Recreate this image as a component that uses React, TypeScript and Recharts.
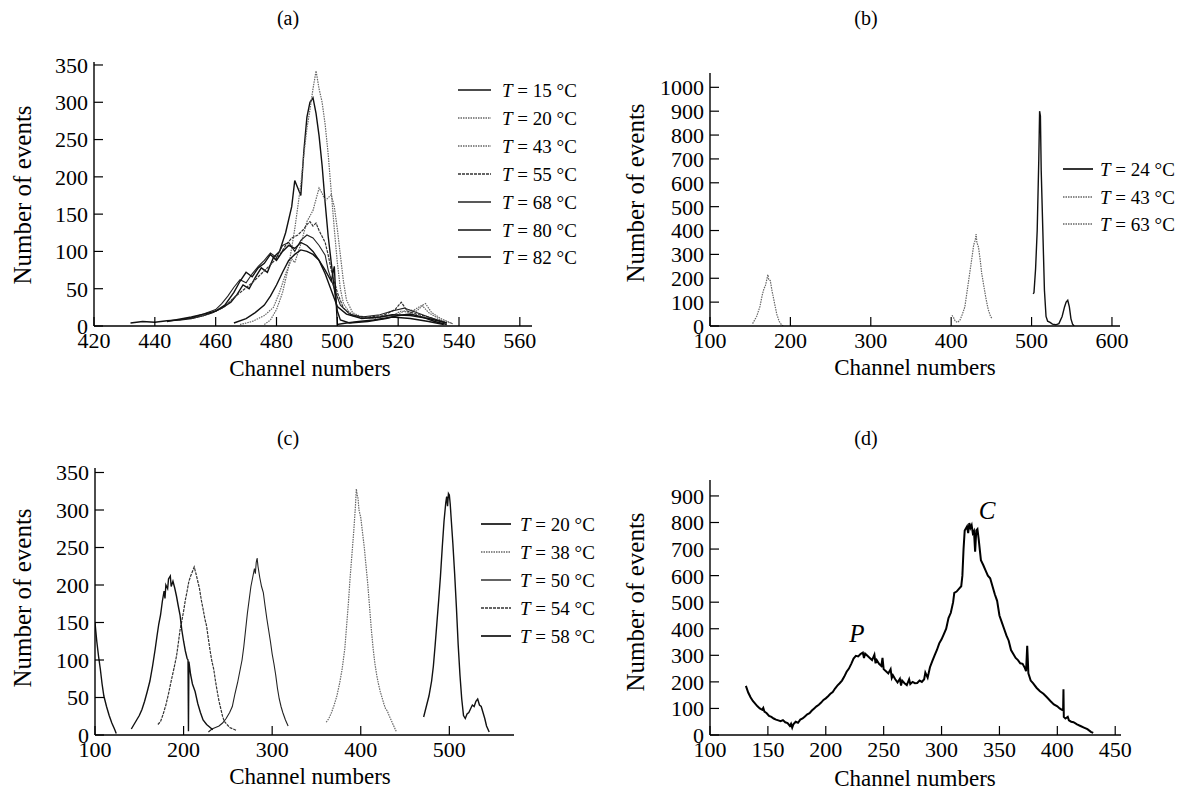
import React from "react"
import { LineChart, Line, XAxis, YAxis } from "recharts"

const FONT = '"Liberation Serif", "Times New Roman", Times, serif'

type Row = [number, number | null]

// ---- panel (a): channel vs events, 7 temperatures ----
const a15: Row[] = [[432,4],[436,6],[440,5],[444,7],[448,8],[452,10],[456,14],[459,18],[462,24],[465,32],[467,42],[469,55],[471,50],[473,65],[475,78],[477,72],[479,92],[481,100],[483,125],[485,160],[486,195],[487,185],[488,175],[489,235],[490,280],[491,300],[492,306],[493,285],[494,255],[495,215],[496,165],[497,120],[498,85],[499,50],[500,20],[501,8],[504,4],[510,6],[516,10],[520,14],[524,16],[528,12],[532,6],[536,2]]
const a20: Row[] = [[476,2],[478,8],[480,22],[482,45],[484,80],[486,130],[487,160],[488,190],[489,230],[490,265],[491,290],[492,318],[493,342],[494,318],[495,300],[496,270],[497,230],[498,180],[499,130],[500,85],[501,50],[502,30],[504,18],[507,12],[510,10],[514,12],[518,14],[521,20],[524,18],[527,26],[529,30],[531,18],[534,10],[538,3]]
const a43: Row[] = [[468,2],[472,6],[476,14],[479,25],[481,45],[483,70],[485,90],[486,85],[488,110],[490,140],[492,155],[493,170],[494,185],[495,178],[496,168],[497,172],[498,176],[499,160],[500,130],[501,95],[502,60],[503,35],[505,18],[508,12],[512,10],[516,13],[520,16],[523,22],[526,20],[528,27],[530,18],[534,8],[538,3]]
const a55: Row[] = [[452,10],[456,14],[460,20],[463,26],[466,38],[469,48],[472,58],[475,70],[478,82],[481,95],[483,108],[485,118],[487,122],[489,130],[490,136],[491,140],[492,134],[493,138],[494,128],[496,112],[497,95],[498,75],[500,45],[502,24],[505,14],[510,12],[515,14],[519,22],[521,32],[523,20],[526,16],[530,12],[535,5]]
const a68: Row[] = [[448,8],[452,11],[456,16],[460,22],[462,30],[464,40],[466,52],[468,62],[470,58],[472,70],[474,80],[476,88],[478,98],[480,92],[482,108],[484,112],[486,100],[488,115],[490,122],[492,118],[494,108],[496,95],[497,75],[499,50],[501,28],[504,16],[508,12],[514,15],[518,20],[522,24],[526,18],[530,12],[536,4]]
const a80: Row[] = [[444,6],[448,9],[452,12],[456,16],[460,20],[463,28],[466,45],[468,60],[470,72],[472,66],[474,78],[476,84],[478,96],[480,88],[482,100],[484,108],[486,104],[488,112],[490,108],[492,100],[494,88],[496,70],[498,48],[500,26],[503,16],[508,10],[514,12],[518,15],[524,14],[530,10],[536,4]]
const a82: Row[] = [[466,4],[470,10],[473,18],[476,28],[478,40],[480,55],[482,72],[484,88],[486,96],[488,102],[490,100],[492,96],[494,88],[496,75],[498,60],[499,80],[500,2],[503,4],[507,6],[512,8],[518,12],[524,10],[530,6],[535,2]]
const aLabels = ["15", "20", "43", "55", "68", "80", "82"]

// ---- panel (b) ----
const b24: Row[] = [[502,135],[503,140],[505,240],[507,400],[509,700],[510,900],[511,880],[512,650],[514,400],[516,150],[518,40],[520,20],[523,15],[526,8],[530,5],[534,10],[538,40],[541,80],[543,100],[545,108],[547,80],[549,30],[551,8],[553,0]]
const b43: Row[] = [[401,45],[403,35],[405,20],[408,15],[411,25],[414,50],[417,80],[420,150],[423,220],[426,290],[428,340],[430,360],[431,385],[432,350],[434,330],[436,280],[438,220],[440,180],[443,120],[446,70],[449,40],[451,30]]
const b63: Row[] = [[153,10],[158,40],[162,80],[165,130],[167,155],[169,170],[171,200],[172,215],[173,195],[175,190],[177,150],[180,100],[183,50],[186,20],[189,5],[191,0]]
const bLabels = ["24", "43", "63"]

// ---- panel (c) ----
const c20: Row[] = [[471,24],[474,38],[477,52],[480,72],[482,92],[484,120],[486,150],[488,180],[490,212],[492,250],[494,285],[496,310],[497,318],[498,305],[499,322],[500,320],[501,308],[502,290],[504,255],[506,215],[508,170],[510,120],[512,80],[514,48],[516,26],[518,22],[520,28],[522,30],[524,35],[526,40],[528,38],[530,45],[532,48],[534,40],[536,38],[538,30],[540,22],[542,12],[545,4]]
const c38: Row[] = [[361,17],[364,22],[367,30],[370,40],[373,52],[376,68],[379,88],[382,115],[384,145],[386,175],[388,210],[390,240],[392,270],[394,305],[395,328],[396,320],[397,315],[398,300],[400,290],[402,270],[404,250],[406,225],[408,200],[410,170],[412,140],[414,115],[416,95],[418,80],[420,68],[422,58],[424,50],[426,42],[428,35],[430,32],[432,26],[435,18],[438,10],[440,5]]
const c50: Row[] = [[228,4],[232,8],[236,10],[240,12],[244,16],[248,22],[252,30],[255,38],[258,55],[261,70],[264,88],[266,100],[268,118],[270,140],[272,162],[274,180],[276,198],[278,210],[280,222],[281,215],[282,230],[283,236],[284,225],[286,210],[288,198],[290,190],[292,172],[294,155],[296,140],[298,125],[300,108],[302,95],[304,80],[306,62],[308,48],[310,38],[312,30],[315,20],[318,12]]
const c54: Row[] = [[171,14],[174,18],[177,28],[180,40],[183,55],[186,72],[189,88],[192,105],[194,122],[196,140],[198,152],[200,165],[202,180],[204,192],[206,205],[208,212],[210,218],[212,224],[214,215],[216,205],[218,195],[220,180],[222,168],[224,155],[226,145],[228,128],[230,112],[232,98],[234,88],[236,72],[238,58],[240,45],[242,35],[244,25],[246,18],[249,14],[252,10],[256,8],[260,6]]
const c58: Row[] = [[100,150],[102,125],[104,105],[106,88],[108,68],[110,52],[113,38],[116,26],[119,16],[122,8],[124,2],[125,null],[141,8],[144,14],[147,20],[150,26],[153,34],[156,45],[159,58],[162,72],[165,92],[168,115],[170,132],[172,148],[174,160],[176,178],[178,192],[179,182],[180,200],[182,195],[183,208],[185,212],[186,198],[188,205],[190,196],[192,185],[194,172],[196,160],[198,140],[200,125],[202,112],[204,102],[205,100],[205.5,5],[206,98],[208,80],[210,68],[213,58],[216,42],[219,30],[222,20],[226,14],[230,10],[233,7]]
const cLabels = ["20", "38", "50", "54", "58"]

// ---- panel (d) ----
const d1: Row[] = [[131,185],[133,160],[135,142],[137,128],[139,118],[141,108],[143,100],[145,95],[146,102],[147,88],[149,82],[151,72],[153,68],[155,62],[157,58],[159,55],[161,52],[163,56],[165,48],[167,45],[169,34],[170,42],[171,28],[172,40],[174,50],[176,46],[178,58],[180,62],[182,70],[184,78],[186,82],[188,92],[190,100],[192,108],[194,114],[196,122],[198,132],[200,138],[202,146],[204,155],[206,162],[208,175],[210,186],[212,195],[214,205],[216,220],[218,238],[220,250],[222,268],[224,288],[226,298],[228,296],[230,305],[232,310],[233,290],[234,306],[236,298],[238,290],[240,282],[242,302],[243,270],[244,282],[246,268],[248,260],[249,290],[250,248],[252,240],[254,232],[256,248],[257,215],[258,225],[260,210],[262,198],[264,212],[265,186],[266,205],[268,195],[270,188],[272,210],[273,192],[275,200],[277,195],[279,196],[281,205],[283,200],[285,210],[286,235],[288,216],[290,255],[292,278],[294,300],[296,320],[298,345],[300,360],[302,380],[304,400],[306,440],[308,460],[310,500],[311,535],[313,540],[315,550],[317,560],[318,600],[319,700],[320,770],[322,785],[323,760],[324,798],[325,780],[326,790],[327,760],[328,768],[329,690],[330,770],[331,775],[332,740],[334,658],[336,640],[338,620],[340,600],[342,590],[344,560],[346,530],[348,505],[350,450],[352,425],[354,400],[356,375],[358,355],[360,320],[362,305],[364,290],[366,282],[368,270],[370,268],[372,252],[373,240],[374,336],[375,232],[377,205],[379,195],[382,178],[385,165],[388,155],[391,142],[394,128],[397,115],[400,108],[402,100],[404,95],[405,92],[405.3,172],[405.6,68],[407,62],[409,68],[410,55],[412,50],[414,48],[417,40],[420,34],[423,28],[426,22],[429,12],[431,8]]

const aXTicks = [420, 440, 460, 480, 500, 520, 540, 560]
const aYTicks = [0, 50, 100, 150, 200, 250, 300, 350]
const bXTicks = [100, 200, 300, 400, 500, 600]
const bYTicks = [0, 100, 200, 300, 400, 500, 600, 700, 800, 900, 1000]
const cXTicks = [100, 200, 300, 400, 500]
const cYTicks = [0, 50, 100, 150, 200, 250, 300, 350]
const dXTicks = [100, 150, 200, 250, 300, 350, 400, 450]
const dYTicks = [0, 100, 200, 300, 400, 500, 600, 700, 800, 900]

const toPts = (rows: Row[]) => rows.map(([x, y]) => ({ x, y }))

type Style = { color: string; width: number; dash?: string }
const solid: Style = { color: "#111", width: 1.4 }
const thin: Style = { color: "#222", width: 1.1 }
const dotted: Style = { color: "#666", width: 1.2, dash: "1.5 1" }
const dashy: Style = { color: "#333", width: 1.2, dash: "3 1" }

const YW = 60
const XH = 40

function XTick(props: any) {
  const { x, y, payload } = props
  return (
    <g>
      <line x1={x} x2={x} y1={y} y2={y - 9} stroke="#000" strokeWidth={1.2} />
      <text x={x} y={y + 22} textAnchor="middle" fontFamily={FONT} fontSize={22} fill="#000">
        {payload.value}
      </text>
    </g>
  )
}

function YTick(props: any) {
  const { x, y, payload } = props
  return (
    <g>
      <line x1={x} x2={x + 9} y1={y} y2={y} stroke="#000" strokeWidth={1.2} />
      <text x={x - 6} y={y} dy="0.36em" textAnchor="end" fontFamily={FONT} fontSize={22} fill="#000">
        {payload.value}
      </text>
    </g>
  )
}

interface PanelProps {
  box: { left: number; top: number; width: number; height: number }
  plot: { left: number; top: number; right: number; bottom: number }
  xDomain: [number, number]
  yDomain: [number, number]
  xTicks: number[]
  yTicks: number[]
  series: { rows: Row[]; style: Style }[]
}

function Panel(p: PanelProps) {
  const { box, plot } = p
  const margin = {
    top: plot.top - box.top,
    left: plot.left - box.left - YW,
    right: box.left + box.width - plot.right,
    bottom: box.top + box.height - plot.bottom - XH,
  }
  return (
    <div style={{ position: "absolute", left: box.left, top: box.top }}>
      <LineChart width={box.width} height={box.height} margin={margin}>
        <XAxis
          type="number"
          dataKey="x"
          domain={p.xDomain}
          ticks={p.xTicks}
          interval={0}
          allowDataOverflow
          height={XH}
          tickSize={0}
          tickMargin={0}
          tickLine={false}
          axisLine={{ stroke: "#000", strokeWidth: 1.4 }}
          tick={(t: any) => <XTick {...t} />}
        />
        <YAxis
          type="number"
          domain={p.yDomain}
          ticks={p.yTicks}
          interval={0}
          allowDataOverflow
          width={YW}
          tickSize={0}
          tickMargin={0}
          tickLine={false}
          axisLine={{ stroke: "#000", strokeWidth: 1.4 }}
          tick={(t: any) => <YTick {...t} />}
        />
        {p.series.map((s, i) => (
          <Line
            key={i}
            data={toPts(s.rows)}
            dataKey="y"
            type="linear"
            stroke={s.style.color}
            strokeWidth={s.style.width}
            strokeDasharray={s.style.dash}
            dot={false}
            activeDot={false}
            isAnimationActive={false}
          />
        ))}
      </LineChart>
    </div>
  )
}

function Txt({ x, y, size, rotate, italic, children }: any) {
  return (
    <div
      style={{
        position: "absolute",
        left: x,
        top: y,
        transform: `translate(-50%, -50%)${rotate ? " rotate(-90deg)" : ""}`,
        fontFamily: FONT,
        fontSize: size,
        fontStyle: italic ? "italic" : "normal",
        whiteSpace: "nowrap",
        lineHeight: 1,
        color: "#000",
      }}
    >
      {children}
    </div>
  )
}

function LegendBox({ x1, x2, tx, y0, step, labels, styles }: any) {
  return (
    <>
      {labels.map((lab: string, i: number) => {
        const y = y0 + i * step
        const st: Style = styles[i]
        return (
          <React.Fragment key={lab + i}>
            <svg style={{ position: "absolute", left: x1, top: y - 3 }} width={x2 - x1} height={6}>
              <line x1={0} x2={x2 - x1} y1={3} y2={3} stroke={st.color} strokeWidth={st.width + 0.3} strokeDasharray={st.dash} />
            </svg>
            <div
              style={{
                position: "absolute",
                left: tx,
                top: y,
                transform: "translateY(-50%)",
                fontFamily: FONT,
                fontSize: 19,
                whiteSpace: "nowrap",
                lineHeight: 1,
              }}
            >
              <i>T</i> = {lab} °C
            </div>
          </React.Fragment>
        )
      })}
    </>
  )
}

export default function App() {
  const aStyles = [solid, dotted, dotted, dashy, thin, solid, solid]
  const aRows = [a15, a20, a43, a55, a68, a80, a82]
  const bStyles = [solid, dotted, dotted]
  const cStyles = [solid, dotted, thin, dashy, solid]
  const cRows = [c20, c38, c50, c54, c58]
  return (
    <div style={{ position: "absolute", left: 0, top: 0, width: 1191, height: 797, background: "#fff", overflow: "hidden" }}>
      <Panel
        box={{ left: 0, top: 0, width: 595, height: 398 }}
        plot={{ left: 94, top: 62, right: 532, bottom: 326 }}
        xDomain={[420, 564]}
        yDomain={[0, 354]}
        xTicks={aXTicks}
        yTicks={aYTicks}
        series={aRows.map((rows, i) => ({ rows, style: aStyles[i] }))}
      />
      <Panel
        box={{ left: 595, top: 0, width: 596, height: 398 }}
        plot={{ left: 710, top: 73, right: 1120, bottom: 326 }}
        xDomain={[100, 610]}
        yDomain={[0, 1060]}
        xTicks={bXTicks}
        yTicks={bYTicks}
        series={[b24, b43, b63].map((rows, i) => ({ rows, style: bStyles[i] }))}
      />
      <Panel
        box={{ left: 0, top: 398, width: 595, height: 399 }}
        plot={{ left: 95, top: 468, right: 514, bottom: 735 }}
        xDomain={[100, 573]}
        yDomain={[0, 356]}
        xTicks={cXTicks}
        yTicks={cYTicks}
        series={cRows.map((rows, i) => ({ rows, style: cStyles[i] }))}
      />
      <Panel
        box={{ left: 595, top: 398, width: 596, height: 399 }}
        plot={{ left: 710, top: 480, right: 1121, bottom: 735 }}
        xDomain={[100, 455]}
        yDomain={[0, 960]}
        xTicks={dXTicks}
        yTicks={dYTicks}
        series={[{ rows: d1, style: { color: "#000", width: 2 } }]}
      />

      <Txt x={288} y={18} size={20}>(a)</Txt>
      <Txt x={866} y={18} size={20}>(b)</Txt>
      <Txt x={288} y={438} size={20}>(c)</Txt>
      <Txt x={866} y={438} size={20}>(d)</Txt>

      <Txt x={22} y={195} size={25} rotate>Number of events</Txt>
      <Txt x={635} y={193} size={25} rotate>Number of events</Txt>
      <Txt x={22} y={598} size={25} rotate>Number of events</Txt>
      <Txt x={635} y={602} size={25} rotate>Number of events</Txt>

      <Txt x={310} y={368} size={23}>Channel numbers</Txt>
      <Txt x={915} y={367} size={23}>Channel numbers</Txt>
      <Txt x={310} y={776} size={23}>Channel numbers</Txt>
      <Txt x={915} y={778} size={23}>Channel numbers</Txt>

      <Txt x={857} y={633} size={25} italic>P</Txt>
      <Txt x={987} y={510} size={25} italic>C</Txt>

      <LegendBox x1={458} x2={491} tx={502} y0={90} step={27.9} labels={aLabels} styles={aStyles} />
      <LegendBox x1={1063} x2={1093} tx={1100} y0={169} step={27.5} labels={bLabels} styles={bStyles} />
      <LegendBox x1={481} x2={511} tx={520} y0={524} step={28.1} labels={cLabels} styles={cStyles} />
    </div>
  )
}
